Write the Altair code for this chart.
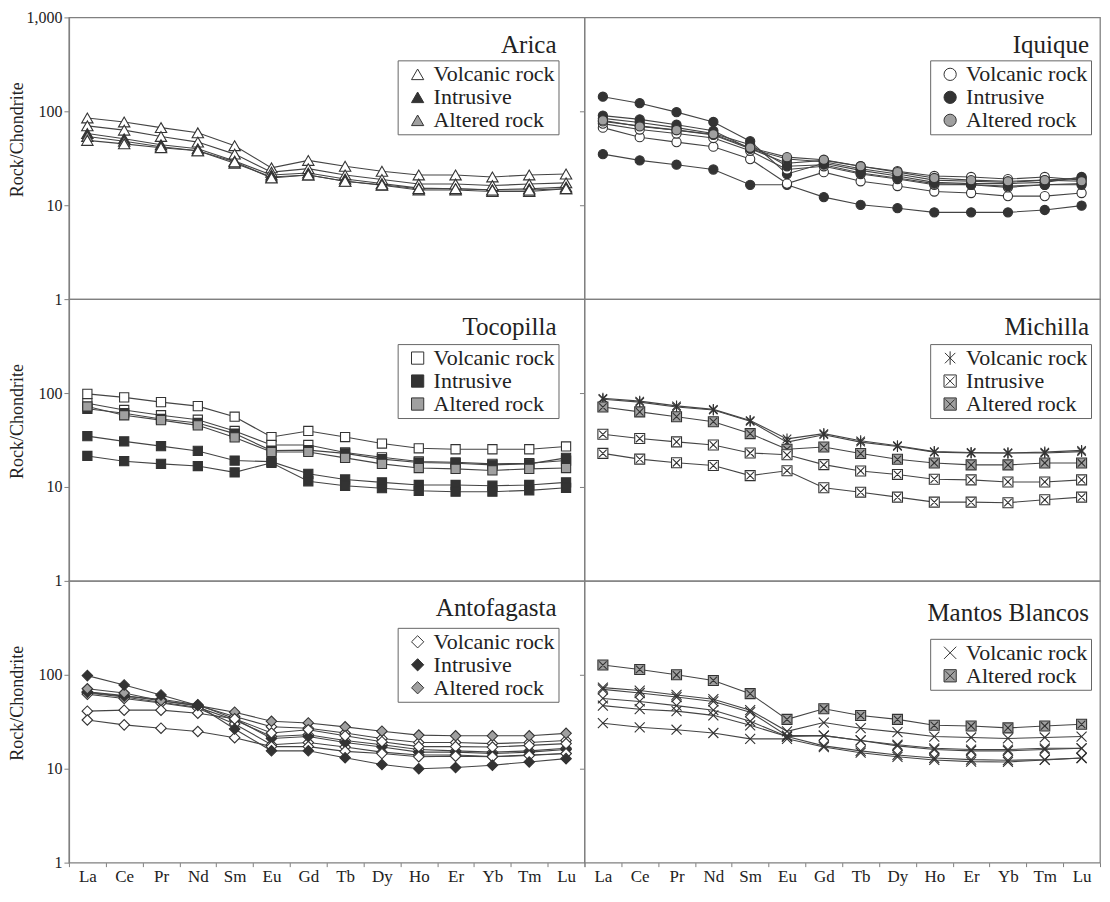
import altair as alt
import pandas as pd

FONT = "'Liberation Serif', 'Times New Roman', Times, 'DejaVu Serif', serif"
ELEMENTS = ["La", "Ce", "Pr", "Nd", "Sm", "Eu", "Gd", "Tb", "Dy", "Ho", "Er", "Yb", "Tm", "Lu"]
VOL, INT, ALT = "Volcanic rock", "Intrusive", "Altered rock"

# ---------------- Arica ----------------
ARICA_VOLC_1 = [85, 77, 67, 59, 43, 25, 30, 26, 23, 21, 21, 20, 21, 21.5]
ARICA_VOLC_2 = [70, 63, 54, 47, 35, 22.5, 24.5, 21, 18.8, 16.8, 16.8, 16.2, 16.8, 17.3]
ARICA_VOLC_3 = [49, 45, 41, 38, 29, 19.5, 21, 18, 16.5, 15, 15, 14.5, 14.5, 15]
ARICA_INTR_1 = [58, 51, 44, 40, 29.5, 21, 22, 19, 17, 15.2, 15, 14.6, 15, 15.6]
ARICA_ALT_1 = [54, 48, 42, 38, 28, 20, 21, 18, 16.3, 14.5, 14.5, 14, 14, 15]

# ---------------- Iquique ----------------
IQ_VOLC_1 = [67, 53, 47, 42, 31, 17, 22.5, 18, 16, 14, 13.5, 12.5, 12.5, 13.5]
IQ_VOLC_2 = [74, 64, 58, 52, 38, 24, 26, 21.5, 19, 16.5, 16.5, 15.5, 16.5, 17]
IQ_VOLC_3 = [78, 70, 63, 56, 40, 28, 30, 26, 23, 20.5, 20, 19, 20, 18.5]
IQ_INTR_1 = [143, 122, 98, 77, 48, 21.5, 28, 23.5, 20.5, 17.5, 17, 17, 17.5, 20]
IQ_INTR_2 = [90, 82, 72, 62, 40, 31, 29, 24.5, 21.5, 18.5, 18, 17.5, 18.5, 19.5]
IQ_INTR_3 = [84, 76, 67, 58, 44, 26, 27, 22, 19.5, 17, 16.5, 16, 16.5, 16.5]
IQ_INTR_4 = [35, 30, 27, 24, 16.5, 16.5, 12.2, 10.1, 9.3, 8.4, 8.4, 8.4, 8.9, 9.9]
IQ_ALT_1 = [80, 69, 63, 57, 41, 32.5, 30.5, 26, 22.5, 19.5, 18.5, 18, 18.5, 18]

# ---------------- Tocopilla ----------------
TOC_VOLC_1 = [98, 90, 80, 72.5, 56, 34, 39.5, 34, 29, 25.8, 25.2, 25.2, 25.2, 27]
TOC_VOLC_2 = [78, 66, 58, 52, 39.5, 28, 28, 23.3, 20.7, 18.7, 18.3, 17.6, 17.9, 19.1]
TOC_INTR_1 = [68, 61, 53, 48, 37, 24.4, 24.7, 22.8, 19.8, 18.2, 17.9, 17.2, 17.6, 20.4]
TOC_INTR_2 = [34.8, 30.6, 27.2, 24.2, 19.1, 18.6, 13.8, 12, 11.2, 10.5, 10.5, 10.3, 10.5, 11.2]
TOC_INTR_3 = [21.4, 18.8, 17.6, 16.7, 14.3, 18.1, 11.5, 10.3, 9.7, 9.1, 8.9, 8.9, 9.2, 9.8]
TOC_ALT_1 = [72, 58, 51.5, 45.3, 33.7, 23.6, 23.6, 20.4, 17.6, 15.9, 15.6, 15, 15.6, 15.9]

# ---------------- Michilla ----------------
MIC_VOLC_1 = [88, 82, 73, 67, 51, 32.5, 37, 31, 27.5, 23.8, 23.3, 23, 23, 23.8]
MIC_VOLC_2 = [86, 80, 71, 66, 50, 30, 36, 30, 27, 23.5, 23, 23, 23.5, 24.5]
MIC_INTR_1 = [36.4, 32.8, 30.2, 28, 23, 22, 17.3, 14.8, 13.6, 12.1, 11.9, 11.3, 11.3, 11.9]
MIC_INTR_2 = [22.8, 19.8, 18.1, 16.9, 13.2, 14.9, 9.8, 8.8, 7.8, 6.9, 6.9, 6.8, 7.3, 7.8]
MIC_ALT_1 = [71, 63, 56, 49.5, 37, 25.2, 26.6, 22.7, 19.7, 18, 17.2, 17.2, 18, 18]

# ---------------- Antofagasta ----------------
ANT_VOLC_1 = [66, 60, 53, 47, 36, 28, 27, 24, 21, 19, 19, 18.5, 19, 20]
ANT_VOLC_2 = [64, 58, 51, 45, 33, 22, 23, 20, 18, 16, 15.5, 15, 15.5, 16.5]
ANT_VOLC_3 = [62, 56, 50, 44, 30, 18, 19, 17, 15, 14, 14, 13.5, 14, 14.5]
ANT_VOLC_4 = [41, 42, 42, 39, 34, 24, 26, 22.4, 19.4, 17.2, 17.2, 17, 17.7, 18.5]
ANT_VOLC_5 = [33, 29.3, 27, 24.9, 21.4, 17.2, 17.2, 15.3, 14.5, 13.4, 13.6, 13.4, 13.8, 14.5]
ANT_INTR_1 = [98, 78, 61, 47, 26.5, 15.5, 15.5, 13.1, 11.1, 10, 10.3, 10.9, 11.8, 12.8]
ANT_INTR_2 = [65, 59, 55, 48, 34, 21, 22, 19, 17, 15, 15, 14.5, 15, 16]
ANT_ALT_1 = [71, 64, 53, 47, 40, 32, 30.7, 27.9, 25.1, 22.8, 22.4, 22.4, 22.4, 23.8]

# ---------------- Mantos Blancos ----------------
MB_VOLC_1 = [73, 68, 61, 55, 42, 25, 31, 27, 24.5, 22, 21.5, 21, 21.5, 22]
MB_VOLC_2 = [70, 64, 58, 52, 40, 22.5, 22.5, 20, 17.5, 16, 15.5, 15.5, 16, 16.5]
MB_VOLC_3 = [56, 52, 47, 42, 32, 22, 22.5, 20, 18, 16.5, 16, 16, 16.5, 16.5]
MB_VOLC_4 = [47, 43, 41, 37, 29, 22, 17.5, 15.5, 14, 13, 12.5, 12.3, 12.5, 13]
MB_VOLC_5 = [30.5, 27.6, 26, 24, 20.8, 20.8, 17, 14.8, 13.4, 12.4, 11.9, 11.8, 12.4, 13]
MB_ALT_1 = [127, 114, 100, 87, 63, 33.5, 43.5, 36.8, 33.5, 29, 28.5, 27.2, 28.5, 29.7]

# marker styles
WHITE, BLACK, GRAY = "#ffffff", "#333333", "#a0a0a0"
ASTERISK = "M-0.85,-0.85L0.85,0.85M-0.85,0.85L0.85,-0.85M0,-1.1L0,1.1"
BOXCROSS = "M-1,-1L1,-1L1,1L-1,1Z M-0.75,-0.75L0.75,0.75 M-0.75,0.75L0.75,-0.75"
CROSS = "M-1,-1L1,1M-1,1L1,-1"

W, H = 516, 282
LEG_W = 159


def panel(name, series, types, shapes, fills, size, row, col, leg_y, title_y):
    recs = []
    for sid, (typ, vals) in enumerate(series):
        for i, (el, v) in enumerate(zip(ELEMENTS, vals)):
            recs.append({"id": f"{name}-{sid}", "type": typ, "el": el, "idx": i, "v": v})
    df = pd.DataFrame(recs)

    if row == 2:
        xaxis = alt.Axis(title=None, labelAngle=0, tickBand="extent", tickSize=4,
                         labelFont=FONT, labelFontSize=17, labelPadding=2, domain=False)
    else:
        xaxis = None
    if col == 0:
        vals = [1, 10, 100, 1000] if row == 0 else [1, 10, 100]
        yaxis = alt.Axis(values=vals, format=",d", title="Rock/Chondrite", titleX=-42,
                         titleY=122, titleFont=FONT, titleFontSize=18, titleFontWeight="normal",
                         labelFont=FONT, labelFontSize=16, tickSize=5, labelPadding=2, grid=False)
    else:
        yaxis = alt.Axis(values=[10, 100], labels=False, title=None, tickSize=5,
                         domain=False, grid=False)

    x = alt.X("el:N", sort=ELEMENTS, bandPosition=0.5,
              scale=alt.Scale(type="band", domain=ELEMENTS, paddingInner=0, paddingOuter=0),
              axis=xaxis)
    y = alt.Y("v:Q", scale=alt.Scale(type="log", domain=[1, 1000], nice=False), axis=yaxis)

    right = W - 28 if col == 0 else W - 11
    legend = alt.Legend(orient="none", legendX=right - LEG_W, legendY=leg_y, title=None,
                        direction="vertical", strokeColor="#666", fillColor="white", padding=3,
                        labelFont=FONT, labelFontSize=22, labelColor="#222",
                        labelOffset=5, rowPadding=1, symbolOffset=6, symbolSize=150,
                        symbolStrokeWidth=1, symbolOpacity=1)
    n = len(types)

    lines = alt.Chart(df).mark_line(color="#444", strokeWidth=1.1).encode(
        x=x, y=y, detail="id:N", order="idx:Q")
    pts = alt.Chart(df).mark_point(filled=True, strokeWidth=1.1, opacity=1, size=size).encode(
        x=x, y=y,
        shape=alt.Shape("type:N", scale=alt.Scale(domain=types, range=shapes), legend=legend),
        fill=alt.Fill("type:N", scale=alt.Scale(domain=types, range=fills), legend=legend),
        stroke=alt.Stroke("type:N", scale=alt.Scale(domain=types, range=["#333"] * n), legend=legend),
    )
    title = alt.Chart(pd.DataFrame({"t": [name]})).mark_text(
        align="right", baseline="middle", font=FONT, fontSize=25, color="#222"
    ).encode(x=alt.value(right), y=alt.value(title_y), text="t:N")
    return alt.layer(lines, pts, title).properties(width=W, height=H)


T3 = [VOL, INT, ALT]
p1 = panel("Arica",
           [(VOL, ARICA_VOLC_1), (VOL, ARICA_VOLC_2), (INT, ARICA_INTR_1), (ALT, ARICA_ALT_1), (VOL, ARICA_VOLC_3)],
           T3, ["triangle-up"] * 3, [WHITE, BLACK, GRAY], 130, 0, 0, 43, 28)
p2 = panel("Iquique",
           [(INT, IQ_INTR_1), (INT, IQ_INTR_4), (VOL, IQ_VOLC_1), (VOL, IQ_VOLC_2), (VOL, IQ_VOLC_3),
            (INT, IQ_INTR_2), (INT, IQ_INTR_3), (ALT, IQ_ALT_1)],
           T3, ["circle"] * 3, [WHITE, BLACK, GRAY], 85, 0, 1, 43, 28)
p3 = panel("Tocopilla",
           [(VOL, TOC_VOLC_1), (VOL, TOC_VOLC_2), (INT, TOC_INTR_1), (ALT, TOC_ALT_1), (INT, TOC_INTR_2),
            (INT, TOC_INTR_3)],
           T3, ["square"] * 3, [WHITE, BLACK, GRAY], 85, 1, 0, 45, 28)
p4 = panel("Michilla",
           [(VOL, MIC_VOLC_1), (VOL, MIC_VOLC_2), (ALT, MIC_ALT_1), (INT, MIC_INTR_1), (INT, MIC_INTR_2)],
           T3, [ASTERISK, BOXCROSS, BOXCROSS], [WHITE, WHITE, GRAY], 100, 1, 1, 45, 28)
p5 = panel("Antofagasta",
           [(VOL, ANT_VOLC_1), (VOL, ANT_VOLC_2), (VOL, ANT_VOLC_3), (INT, ANT_INTR_2), (ALT, ANT_ALT_1),
            (VOL, ANT_VOLC_4), (VOL, ANT_VOLC_5), (INT, ANT_INTR_1)],
           T3, ["diamond"] * 3, [WHITE, BLACK, GRAY], 110, 2, 0, 47, 27)
p6 = panel("Mantos Blancos",
           [(ALT, MB_ALT_1), (VOL, MB_VOLC_1), (VOL, MB_VOLC_2), (VOL, MB_VOLC_3), (VOL, MB_VOLC_4),
            (VOL, MB_VOLC_5)],
           [VOL, ALT], [CROSS, BOXCROSS], [WHITE, GRAY], 100, 2, 1, 58, 32)

chart = alt.concat(p1, p2, p3, p4, p5, p6, columns=2, spacing=0, bounds="flush").resolve_scale(
    shape="independent", fill="independent", stroke="independent"
).resolve_legend(
    shape="independent", fill="independent", stroke="independent"
).properties(
    padding={"left": 0, "top": 0, "right": 0, "bottom": 0}, background="white"
).configure_view(
    stroke="#808080", strokeWidth=1.3
).configure_axis(
    labelFont=FONT, titleFont=FONT, labelColor="#222", titleColor="#222",
    domainColor="#808080", tickColor="#808080", domainWidth=1.3, grid=False
)

chart.save("out.html", embed_options={"renderer": "svg", "actions": False})
